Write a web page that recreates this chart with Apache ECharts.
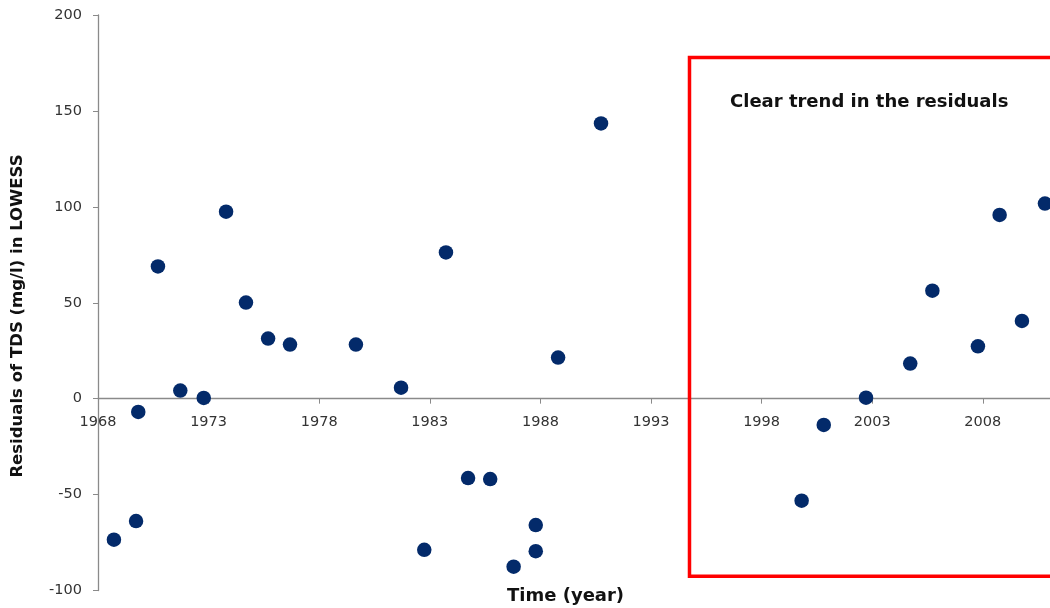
<!DOCTYPE html>
<html>
<head>
<meta charset="utf-8">
<script src="https://cdn.jsdelivr.net/npm/echarts@6/dist/echarts.min.js"></script>
<style>
html,body{margin:0;padding:0;background:#ffffff;}
#chart{width:1050px;height:608px;}
</style>
</head>
<body>
<div id="chart"></div>
<script>
// Data
const years = [1968.72, 1969.72, 1969.82, 1970.71, 1971.72, 1972.78, 1973.79, 1974.69, 1975.69, 1976.68,
  1979.66, 1981.70, 1982.75, 1983.73, 1984.73, 1985.73, 1986.79, 1987.79, 1987.79, 1988.80,
  1990.74, 1999.81, 2000.81, 2002.72, 2004.72, 2005.72, 2007.78, 2008.76, 2009.77, 2010.81];
const residuals = [-73.5, -63.8, -6.9, 68.9, 4.2, 0.4, 97.5, 50.1, 31.3, 28.2,
  28.2, 5.7, -78.8, 76.2, -41.4, -41.9, -87.6, -65.9, -79.5, 21.4,
  143.5, -53.2, -13.7, 0.5, 18.3, 56.3, 27.3, 95.8, 40.5, 101.7];
const yTicks = { min: -100, max: 200, step: 50 };
const xTicks = { min: 1968, max: 2013, step: 5 };
const highlight = { fromYear: 1994.74, toYear: 2016, top: 177.8, bottom: -92.6 };
const annotationText = 'Clear trend in the residuals';
const xTitle = 'Time (year)';
const yTitle = 'Residuals of TDS (mg/l) in LOWESS';

const points = years.map((y, i) => [y, residuals[i]]);

const W = 1050, H = 608;
const gridTop = 15, gridBottom = 17.5;
const gridHeight = H - gridTop - gridBottom;
// move the x axis up so that it crosses the y axis at 0
const zeroOffset = -((0 - yTicks.min) / (yTicks.max - yTicks.min)) * gridHeight;

const chart = echarts.init(document.getElementById('chart'), null, { renderer: 'canvas' });
const axisColor = '#8a8a8a';
const labelColor = '#333333';
const font = 'DejaVu Sans';

chart.setOption({
  backgroundColor: '#ffffff',
  animation: false,
  grid: { left: 98, top: gridTop, bottom: gridBottom, right: -43.4, containLabel: false, outerBoundsMode: 'none' },
  xAxis: {
    type: 'value', min: xTicks.min, max: xTicks.max, interval: xTicks.step,
    position: 'bottom', offset: zeroOffset,
    axisLine: { onZero: false, lineStyle: { color: axisColor, width: 1.3 } },
    axisTick: { show: true, inside: false, length: 5, lineStyle: { color: axisColor } },
    axisLabel: { color: labelColor, fontFamily: font, fontSize: 14.5, margin: 16, formatter: v => String(v) },
    splitLine: { show: false }
  },
  yAxis: {
    type: 'value', min: yTicks.min, max: yTicks.max, interval: yTicks.step,
    axisLine: { show: true, onZero: false, lineStyle: { color: axisColor, width: 1.3 } },
    axisTick: { show: true, inside: false, length: 5, lineStyle: { color: axisColor } },
    axisLabel: { color: labelColor, fontFamily: font, fontSize: 14.5, margin: 16 },
    splitLine: { show: false }
  },
  series: [{
    type: 'scatter',
    data: points,
    symbol: 'circle',
    symbolSize: 14.5,
    itemStyle: { color: '#032a6a', opacity: 1 },
    silent: true,
    z: 3,
    markArea: {
      silent: true,
      itemStyle: { color: 'rgba(0,0,0,0)', borderColor: '#ff0000', borderWidth: 3.5, opacity: 1 },
      label: { show: false },
      data: [[{ coord: [highlight.fromYear, highlight.top] }, { coord: [highlight.toYear, highlight.bottom] }]]
    }
  }],
  graphic: [
    { type: 'text', left: 730, top: 93, style: { text: annotationText, fill: '#111111', font: 'bold 18px "DejaVu Sans"' } },
    { type: 'text', left: 507, top: 587, style: { text: xTitle, fill: '#111111', font: 'bold 18px "DejaVu Sans"' } },
    { type: 'text', x: 18, y: 316, rotation: Math.PI / 2,
      style: { text: yTitle, fill: '#111111', font: 'bold 16.5px "DejaVu Sans"', align: 'center', verticalAlign: 'middle' } }
  ]
});
</script>
</body>
</html>
